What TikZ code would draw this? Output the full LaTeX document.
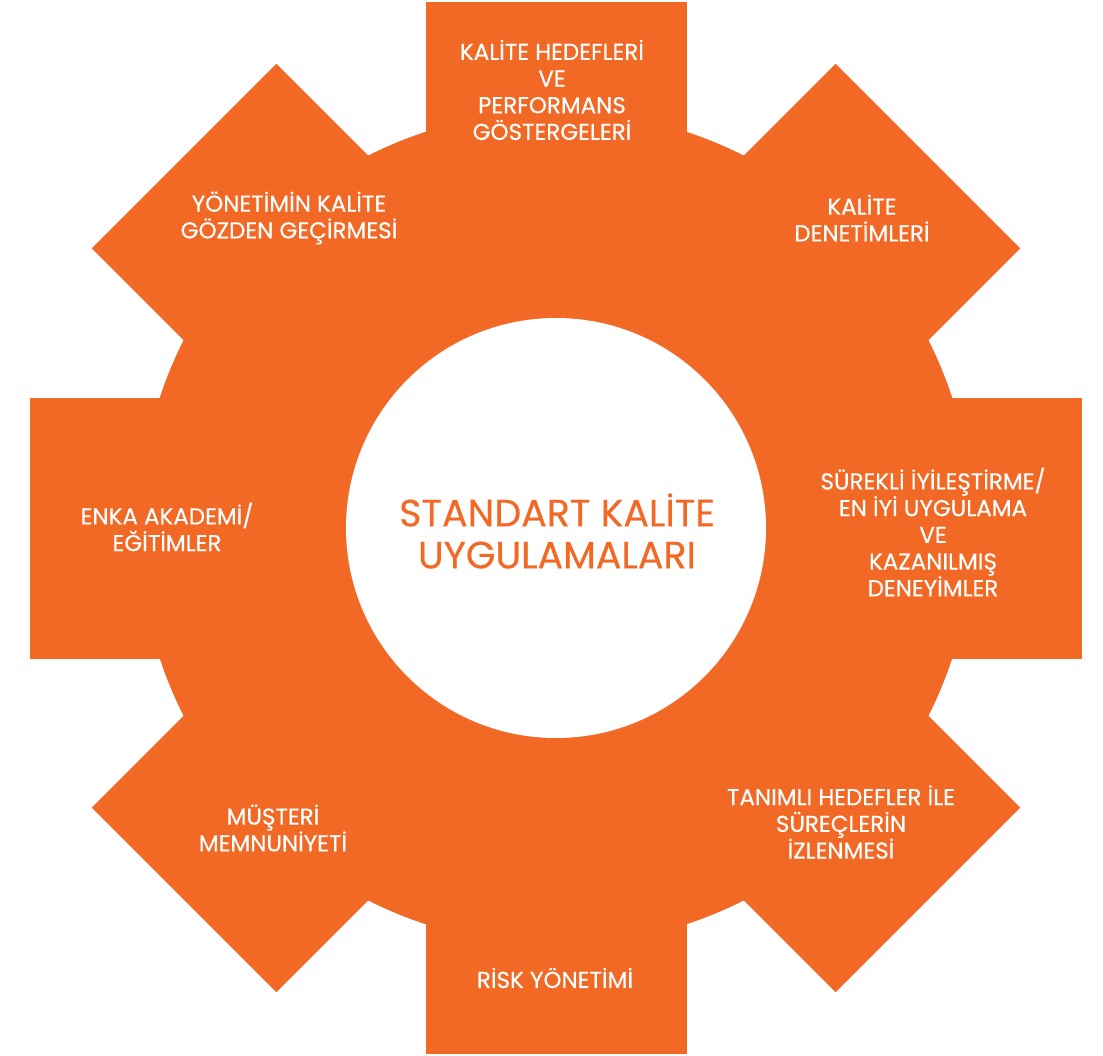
\documentclass[tikz,border=0pt]{standalone}
\usepackage{fontspec}
\setmainfont{Poppins}
\newfontfamily\gearfont{Poppins}[FakeBold=0.35]
\usepackage{tikz}
\usetikzlibrary{positioning}
\definecolor{gearorange}{RGB}{242,105,38}

\begin{document}
\begin{tikzpicture}[x=1pt,y=-1pt,
  toothlabel/.style={text=white,align=center,font=\gearfont\fontsize{23}{26.7}\selectfont},
  hublabel/.style={text=gearorange,align=center,font=\gearfont\fontsize{38}{42}\selectfont}]
  \useasboundingbox (0,0) rectangle (1103,1055);
  \coordinate (gc) at (556,528);

  % gear: body, eight teeth, white hub
  \begin{scope}[shift={(gc)}]
    \fill[gearorange] (0,0) circle[radius=417pt];
    \foreach \a in {0,45,...,315}
      \fill[gearorange,rotate=\a] (-130.5,0) rectangle (130.5,526);
    \fill[white] (0,0) circle[radius=210pt];
  \end{scope}

  \node[hublabel] (hub) at (557,531) {STANDART KALİTE\\UYGULAMALARI};

  \node[toothlabel] (goals) at (552,90) {KALİTE HEDEFLERİ\\VE\\PERFORMANS\\GÖSTERGELERİ};
  \node[toothlabel] (audits) at (862,218) {KALİTE\\DENETİMLERİ};
  \node[toothlabel] (improve) at (933,532) {SÜREKLİ İYİLEŞTİRME/\\EN İYİ UYGULAMA\\VE\\KAZANILMIŞ\\DENEYİMLER};
  \node[toothlabel] (monitor) at (841,822) {TANIMLI HEDEFLER İLE\\SÜREÇLERİN\\İZLENMESİ};
  \node[toothlabel] (risk) at (555,978) {RİSK YÖNETİMİ};
  \node[toothlabel] (customer) at (273,828) {MÜŞTERİ\\MEMNUNİYETİ};
  \node[toothlabel] (academy) at (167,527) {ENKA AKADEMİ/\\EĞİTİMLER};
  \node[toothlabel] (review) at (289,218) {YÖNETİMİN KALİTE\\GÖZDEN GEÇİRMESİ};

\end{tikzpicture}
\end{document}
